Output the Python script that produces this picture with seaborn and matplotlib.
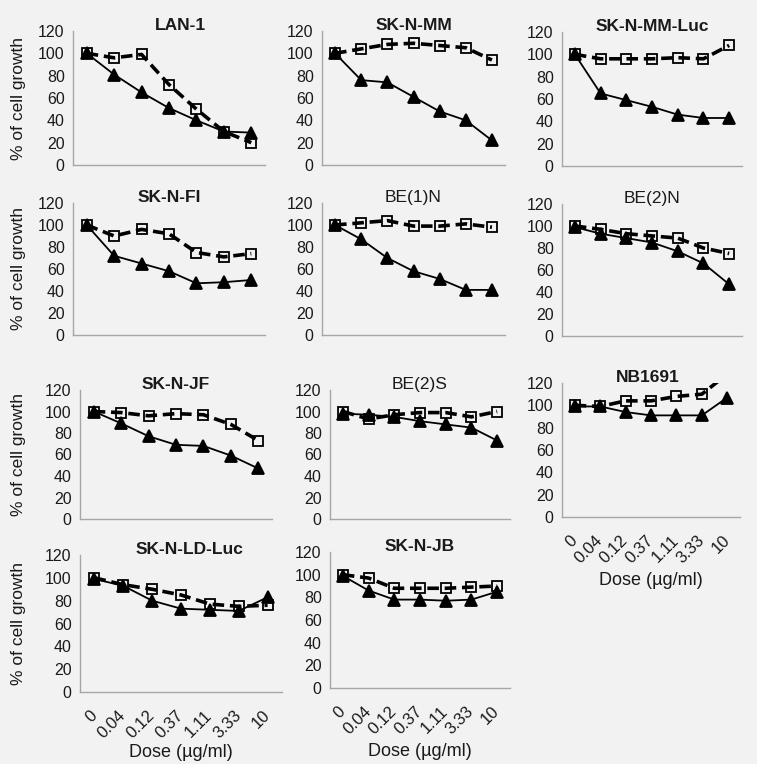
import matplotlib
matplotlib.use("Agg")
import matplotlib.pyplot as plt
import numpy as np
import pandas as pd
import seaborn as sns

# ---------------- data ----------------
doses = ["0", "0.04", "0.12", "0.37", "1.11", "3.33", "10"]
cell_lines = ["LAN-1", "SK-N-MM", "SK-N-MM-Luc", "SK-N-FI", "BE(1)N", "BE(2)N",
              "SK-N-JF", "BE(2)S", "NB1691", "SK-N-LD-Luc", "SK-N-JB"]
bold_title = [True, True, True, True, False, False, True, False, True, True, True]

# dashed line, open squares
sq_lan1 = [100, 96, 99, 72, 50, 30, 20]
sq_sknmm = [100, 104, 108, 109, 107, 105, 94]
sq_sknmmluc = [100, 96, 96, 96, 97, 96, 108]
sq_sknfi = [100, 90, 96, 92, 75, 71, 74]
sq_be1n = [100, 102, 104, 99, 99, 101, 98]
sq_be2n = [100, 97, 93, 91, 89, 80, 75]
sq_sknjf = [100, 99, 96, 98, 97, 88, 73]
sq_be2s = [100, 93, 97, 99, 99, 95, 100]
sq_nb1691 = [100, 99, 104, 104, 108, 110, 128]
sq_sknldluc = [100, 94, 90, 85, 77, 75, 76]
sq_sknjb = [100, 97, 88, 88, 88, 89, 90]

# solid line, filled triangles
tr_lan1 = [100, 81, 65, 51, 40, 30, 29]
tr_sknmm = [100, 76, 74, 61, 48, 40, 22]
tr_sknmmluc = [100, 65, 59, 53, 46, 43, 43]
tr_sknfi = [100, 72, 65, 58, 47, 48, 50]
tr_be1n = [100, 87, 70, 58, 51, 41, 41]
tr_be2n = [99, 93, 89, 85, 77, 66, 47]
tr_sknjf = [100, 89, 77, 69, 68, 59, 47]
tr_be2s = [98, 97, 95, 91, 88, 85, 73]
tr_nb1691 = [99, 99, 94, 91, 91, 91, 107]
tr_sknldluc = [99, 93, 80, 73, 72, 71, 83]
tr_sknjb = [99, 86, 78, 78, 77, 78, 85]

squares = [sq_lan1, sq_sknmm, sq_sknmmluc, sq_sknfi, sq_be1n, sq_be2n,
           sq_sknjf, sq_be2s, sq_nb1691, sq_sknldluc, sq_sknjb]
triangles = [tr_lan1, tr_sknmm, tr_sknmmluc, tr_sknfi, tr_be1n, tr_be2n,
             tr_sknjf, tr_be2s, tr_nb1691, tr_sknldluc, tr_sknjb]

yticks = [0, 20, 40, 60, 80, 100, 120]
ylabel = "% of cell growth"
xlabel = "Dose (\u00b5g/ml)"

# ---------------- layout (pixels: left, top, right, bottom) ----------------
W, H = 757, 764
boxes = [
    (73, 31, 265, 165), (322, 31, 505, 165), (562, 32, 742, 166),
    (73, 203, 265, 335), (322, 203, 505, 335), (562, 204, 742, 336),
    (80, 390, 272, 519), (330, 390, 510, 519), (562, 383, 740, 517),
    (80, 555, 282, 692), (330, 552, 510, 688),
]
title_x = [0.56, 0.5, 0.5, 0.5, 0.5, 0.5, 0.5, 0.5, 0.48, 0.54, 0.5]
bottom_panels = {8, 9, 10}
left_panels = {0, 3, 6, 9}

bg = "#f2f2f2"
axis_gray = "#a6a6a6"
txt = "#1a1a1a"

sns.set_theme(style="white")
plt.rcParams["font.family"] = ["Liberation Sans", "DejaVu Sans"]

fig = plt.figure(figsize=(W / 100, H / 100), dpi=100, facecolor=bg)

for i, name in enumerate(cell_lines):
    l, t, r, b = boxes[i]
    ax = fig.add_axes([l / W, 1 - b / H, (r - l) / W, (b - t) / H])
    ax.set_facecolor(bg)
    ax.patch.set_alpha(0)

    df = pd.DataFrame({
        "dose": doses * 2,
        "pct": list(squares[i]) + list(triangles[i]),
        "series": ["sq"] * len(doses) + ["tr"] * len(doses),
    })
    sns.lineplot(data=df, x="dose", y="pct", style="series",
                 markers={"sq": "s", "tr": "^"},
                 dashes={"sq": (3.2, 1.6), "tr": ""},
                 color="black", sort=False, legend=False, ax=ax,
                 markeredgecolor="black", markeredgewidth=1.3)
    for ln in ax.lines:
        if ln.get_marker() == "s":
            ln.set_linewidth(2.6)
            ln.set_markersize(7)
            ln.set_markerfacecolor("none")
            ln.set_zorder(2)
        else:
            ln.set_linewidth(1.3)
            ln.set_markersize(8.5)
            ln.set_markerfacecolor("black")
            ln.set_zorder(3)

    ax.set_ylim(0, 120)
    ax.set_xlim(-0.5, len(doses) - 0.5)
    ax.set_yticks(yticks)
    ax.set_yticklabels([str(v) for v in yticks])
    ax.set_xticks(range(len(doses)))
    ax.set_xticks(np.arange(-0.5, len(doses), 1.0), minor=True)
    ax.tick_params(axis="x", which="major", length=0, pad=15)
    ax.tick_params(axis="x", which="minor", length=4, width=1,
                   color=axis_gray, direction="out")
    ax.tick_params(axis="y", length=4, width=1, color=axis_gray,
                   direction="out", labelsize=11.5, labelcolor=txt, pad=2)
    for s in ["top", "right"]:
        ax.spines[s].set_visible(False)
    for s in ["left", "bottom"]:
        ax.spines[s].set_color(axis_gray)
        ax.spines[s].set_linewidth(1)

    if i in bottom_panels:
        ax.set_xticklabels(doses, rotation=45, ha="right", va="center",
                           rotation_mode="anchor", fontsize=12, color=txt)
        ax.set_xlabel(xlabel, fontsize=13, color=txt,
                      labelpad=2 if i == 9 else 4)
    else:
        ax.set_xticklabels([])
        ax.set_xlabel("")

    if i in left_panels:
        ax.set_ylabel(ylabel, fontsize=12.5, color=txt)
        ax.yaxis.set_label_coords((26 - l) / (r - l), 0.5)
    else:
        ax.set_ylabel("")

    ax.text(title_x[i], 1.04, name, transform=ax.transAxes, ha="center",
            va="center", fontsize=12.5,
            fontweight="bold" if bold_title[i] else "normal", color=txt)

fig.savefig("out.png", dpi=100, facecolor=bg)
